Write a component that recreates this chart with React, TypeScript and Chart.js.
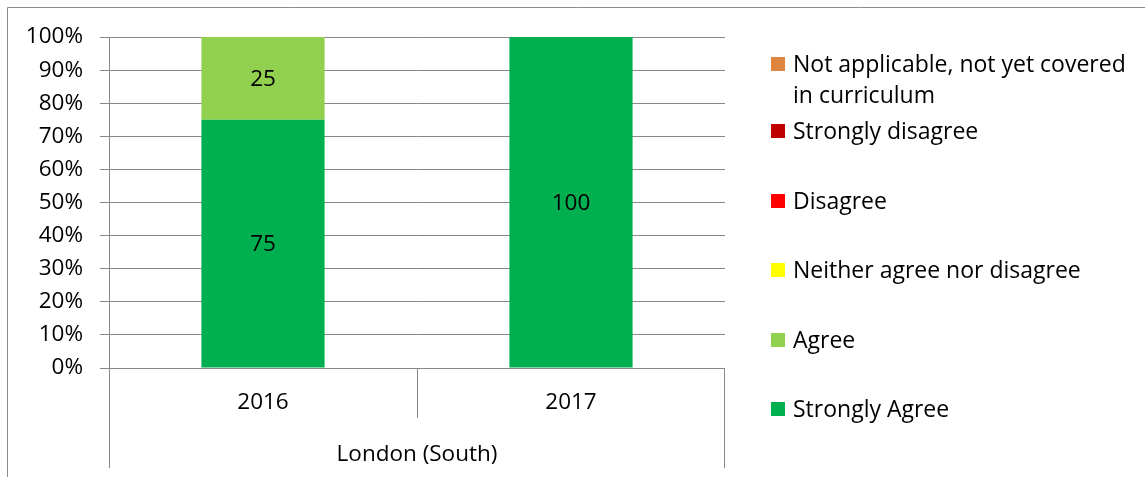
import React, { useEffect, useRef } from "react";
import { Chart, registerables } from "chart.js";

Chart.register(...registerables);

const categories = ["2016", "2017"];
const groupLabel = "London (South)";
const seriesNames = [
  "Strongly Agree",
  "Agree",
  "Neither agree nor disagree",
  "Disagree",
  "Strongly disagree",
  "Not applicable, not yet covered in curriculum",
];
const seriesColors = ["#00B050", "#92D050", "#FFFF00", "#FF0000", "#C00000", "#DE8640"];
const stronglyAgree = [75, 100];
const agree = [25, 0];
const neither = [0, 0];
const disagree = [0, 0];
const stronglyDisagree = [0, 0];
const notApplicable = [0, 0];
const yTicks = [0, 10, 20, 30, 40, 50, 60, 70, 80, 90, 100];

const FONT = "'Open Sans'";
const AXIS_SIZE = 22.5;
const LEGEND_SIZE = 23;
const GRID = "#878787";

const series = [stronglyAgree, agree, neither, disagree, stronglyDisagree, notApplicable];

const overlay = {
  id: "overlay",
  afterDraw(chart: any) {
    const ctx = chart.ctx;
    const area = chart.chartArea;
    const x = chart.scales.x;
    ctx.save();
    // outer frame
    ctx.strokeStyle = "#8c8c8c";
    ctx.lineWidth = 1;
    ctx.beginPath();
    ctx.moveTo(7.5, 477);
    ctx.lineTo(7.5, 7.5);
    ctx.lineTo(1145, 7.5);
    ctx.stroke();

    // category separators
    ctx.strokeStyle = GRID;
    const p0 = x.getPixelForValue(0);
    const p1 = x.getPixelForValue(1);
    const mid = Math.round((p0 + p1) / 2) + 0.5;
    ctx.beginPath();
    ctx.moveTo(Math.round(area.left) + 0.5, area.bottom);
    ctx.lineTo(Math.round(area.left) + 0.5, area.bottom + 100);
    ctx.moveTo(mid, area.bottom);
    ctx.lineTo(mid, area.bottom + 50);
    ctx.moveTo(Math.round(area.right) - 0.5, area.bottom);
    ctx.lineTo(Math.round(area.right) - 0.5, area.bottom + 100);
    ctx.stroke();

    ctx.fillStyle = "#000";
    ctx.font = `${AXIS_SIZE}px ${FONT}`;
    ctx.textAlign = "center";
    ctx.textBaseline = "middle";
    categories.forEach((c, i) => {
      ctx.fillText(c, x.getPixelForValue(i), area.bottom + 35);
    });
    ctx.fillText(groupLabel, (area.left + area.right) / 2, area.bottom + 87);

    // data labels
    chart.data.datasets.forEach((ds: any, di: number) => {
      const meta = chart.getDatasetMeta(di);
      meta.data.forEach((bar: any, i: number) => {
        const v = ds.data[i];
        if (!v) return;
        const cy = (bar.y + bar.base) / 2;
        ctx.fillText(String(v), bar.x, cy + 1);
      });
    });

    // legend (reverse order)
    ctx.textAlign = "left";
    ctx.font = `${LEGEND_SIZE}px ${FONT}`;
    const legendX = 771;
    const textX = 793;
    const rows = [64, 131, 201, 270, 340, 409];
    const maxW = 1140 - textX;
    const order = [5, 4, 3, 2, 1, 0];
    order.forEach((si, r) => {
      const y = rows[r];
      ctx.fillStyle = seriesColors[si];
      ctx.fillRect(legendX, y - 7, 14, 14);
      ctx.fillStyle = "#000";
      const words = seriesNames[si].split(" ");
      const lines: string[] = [];
      let cur = "";
      words.forEach((w) => {
        const t = cur ? cur + " " + w : w;
        if (ctx.measureText(t).width > maxW && cur) {
          lines.push(cur);
          cur = w;
        } else cur = t;
      });
      lines.push(cur);
      lines.forEach((ln, li) => ctx.fillText(ln, textX, y + 1 + li * 31));
    });
    ctx.restore();
  },
};

export default function App() {
  const ref = useRef<HTMLCanvasElement>(null);
  useEffect(() => {
    const chart = new Chart(ref.current!, {
      type: "bar",
      data: {
        labels: categories,
        datasets: series.map((d, i) => ({
          label: seriesNames[i],
          data: d,
          backgroundColor: seriesColors[i],
          borderWidth: 0,
          barPercentage: 0.4,
          categoryPercentage: 1,
        })),
      },
      options: {
        responsive: false,
        animation: false,
        layout: { padding: { left: 0, top: 37, right: 420, bottom: 109 } },
        plugins: { legend: { display: false }, tooltip: { enabled: false }, title: { display: false } },
        scales: {
          x: { stacked: true, display: false },
          y: {
            stacked: true,
            min: 0,
            max: 100,
            afterFit: (s: any) => {
              s.width = 109;
            },
            afterBuildTicks: (s: any) => {
              s.ticks = yTicks.map((v) => ({ value: v }));
            },
            ticks: {
              stepSize: 10,
              padding: 17,
              color: "#000",
              font: { family: FONT, size: AXIS_SIZE },
              callback: (v: any) => v + "%",
            },
            grid: { color: GRID, tickLength: 9, drawTicks: true },
            border: { display: true, color: GRID },
          },
        },
      },
      plugins: [overlay],
    });
    return () => chart.destroy();
  }, []);
  return (
    <div style={{ position: "absolute", left: 0, top: 0, width: 1145, height: 477, background: "#fff" }}>
      <canvas ref={ref} width={1145} height={477} style={{ display: "block" }} />
    </div>
  );
}
